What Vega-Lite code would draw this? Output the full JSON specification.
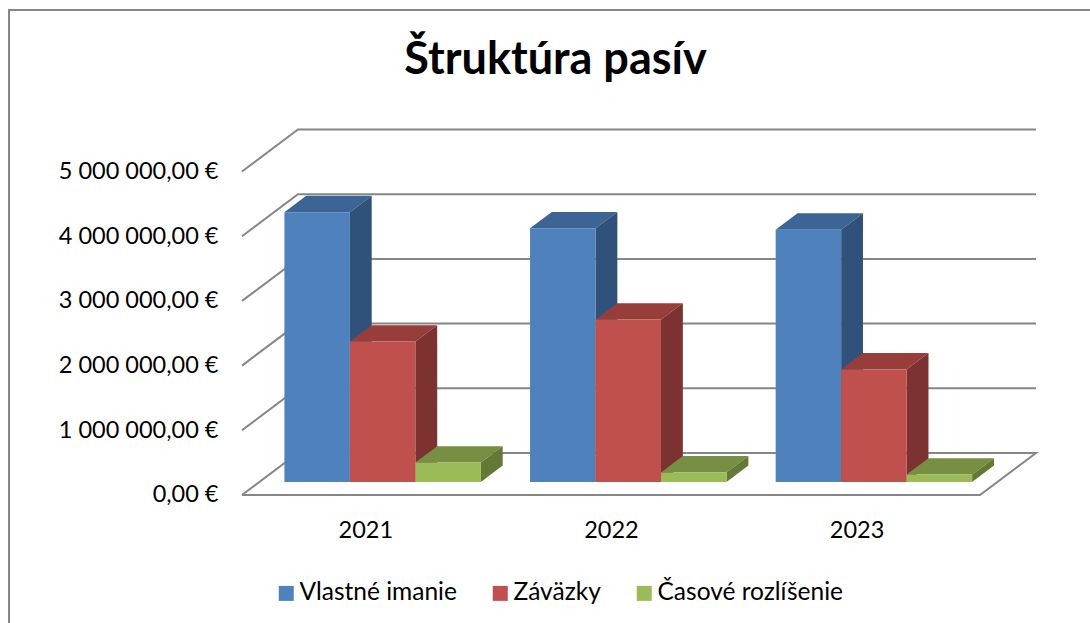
{"$schema":"https://vega.github.io/schema/vega-lite/v6.json","width":1083,"height":616,"padding":{"left":9,"top":10,"right":0,"bottom":0},"autosize":{"type":"none"},"background":"white","config":{"view":{"stroke":"#868686","strokeWidth":2},"font":"Lato"},"title":{"text":"Štruktúra pasív","anchor":"middle","frame":"group","dx":5,"offset":-73,"fontSize":45,"fontWeight":"bold","font":"Lato","color":"#000000"},"datasets":{"bars":[{"year":"2021","series":"Vlastné imanie","value":4170000,"slot":0,"slotEnd":1},{"year":"2021","series":"Záväzky","value":2170000,"slot":1,"slotEnd":2},{"year":"2021","series":"Časové rozlíšenie","value":300000,"slot":2,"slotEnd":3},{"year":"2022","series":"Vlastné imanie","value":3920000,"slot":3.75,"slotEnd":4.75},{"year":"2022","series":"Záväzky","value":2510000,"slot":4.75,"slotEnd":5.75},{"year":"2022","series":"Časové rozlíšenie","value":147000,"slot":5.75,"slotEnd":6.75},{"year":"2023","series":"Vlastné imanie","value":3900000,"slot":7.5,"slotEnd":8.5},{"year":"2023","series":"Záväzky","value":1740000,"slot":8.5,"slotEnd":9.5},{"year":"2023","series":"Časové rozlíšenie","value":115000,"slot":9.5,"slotEnd":10.5}],"faces":[{"face":"2021a","shade":"blue top","cx":[0,1,1,0],"cy":[4170000,4170000,4170000,4170000],"depth":[0.31,0.31,0.7,0.7],"idx":[0,1,2,3]},{"face":"2021b","shade":"blue side","cx":[1,1,1,1],"cy":[4170000,0,0,4170000],"depth":[0.31,0.31,0.7,0.7],"idx":[0,1,2,3]},{"face":"2021c","shade":"red top","cx":[1,2,2,1],"cy":[2170000,2170000,2170000,2170000],"depth":[0.31,0.31,0.7,0.7],"idx":[0,1,2,3]},{"face":"2021d","shade":"red side","cx":[2,2,2,2],"cy":[2170000,0,0,2170000],"depth":[0.31,0.31,0.7,0.7],"idx":[0,1,2,3]},{"face":"2021e","shade":"green top","cx":[2,3,3,2],"cy":[300000,300000,300000,300000],"depth":[0.31,0.31,0.7,0.7],"idx":[0,1,2,3]},{"face":"2021f","shade":"green side","cx":[3,3,3,3],"cy":[300000,0,0,300000],"depth":[0.31,0.31,0.7,0.7],"idx":[0,1,2,3]},{"face":"2022a","shade":"blue top","cx":[3.75,4.75,4.75,3.75],"cy":[3920000,3920000,3920000,3920000],"depth":[0.31,0.31,0.7,0.7],"idx":[0,1,2,3]},{"face":"2022b","shade":"blue side","cx":[4.75,4.75,4.75,4.75],"cy":[3920000,0,0,3920000],"depth":[0.31,0.31,0.7,0.7],"idx":[0,1,2,3]},{"face":"2022c","shade":"red top","cx":[4.75,5.75,5.75,4.75],"cy":[2510000,2510000,2510000,2510000],"depth":[0.31,0.31,0.7,0.7],"idx":[0,1,2,3]},{"face":"2022d","shade":"red side","cx":[5.75,5.75,5.75,5.75],"cy":[2510000,0,0,2510000],"depth":[0.31,0.31,0.7,0.7],"idx":[0,1,2,3]},{"face":"2022e","shade":"green top","cx":[5.75,6.75,6.75,5.75],"cy":[147000,147000,147000,147000],"depth":[0.31,0.31,0.7,0.7],"idx":[0,1,2,3]},{"face":"2022f","shade":"green side","cx":[6.75,6.75,6.75,6.75],"cy":[147000,0,0,147000],"depth":[0.31,0.31,0.7,0.7],"idx":[0,1,2,3]},{"face":"2023a","shade":"blue top","cx":[7.5,8.5,8.5,7.5],"cy":[3900000,3900000,3900000,3900000],"depth":[0.31,0.31,0.7,0.7],"idx":[0,1,2,3]},{"face":"2023b","shade":"blue side","cx":[8.5,8.5,8.5,8.5],"cy":[3900000,0,0,3900000],"depth":[0.31,0.31,0.7,0.7],"idx":[0,1,2,3]},{"face":"2023c","shade":"red top","cx":[8.5,9.5,9.5,8.5],"cy":[1740000,1740000,1740000,1740000],"depth":[0.31,0.31,0.7,0.7],"idx":[0,1,2,3]},{"face":"2023d","shade":"red side","cx":[9.5,9.5,9.5,9.5],"cy":[1740000,0,0,1740000],"depth":[0.31,0.31,0.7,0.7],"idx":[0,1,2,3]},{"face":"2023e","shade":"green top","cx":[9.5,10.5,10.5,9.5],"cy":[115000,115000,115000,115000],"depth":[0.31,0.31,0.7,0.7],"idx":[0,1,2,3]},{"face":"2023f","shade":"green side","cx":[10.5,10.5,10.5,10.5],"cy":[115000,0,0,115000],"depth":[0.31,0.31,0.7,0.7],"idx":[0,1,2,3]}],"grid":[{"level":0,"cx":[-0.382,-0.382,10.885,10.885,-0.382],"depth":[0,1,1,0,0],"idx":[0,1,2,3,4]},{"level":1000000,"cx":[-0.382,-0.382,10.885],"depth":[0,1,1],"idx":[0,1,2]},{"level":2000000,"cx":[-0.382,-0.382,10.885],"depth":[0,1,1],"idx":[0,1,2]},{"level":3000000,"cx":[-0.382,-0.382,10.885],"depth":[0,1,1],"idx":[0,1,2]},{"level":4000000,"cx":[-0.382,-0.382,10.885],"depth":[0,1,1],"idx":[0,1,2]},{"level":5000000,"cx":[-0.382,-0.382,10.885],"depth":[0,1,1],"idx":[0,1,2]}]},"layer":[{"data":{"name":"grid"},"transform":[{"flatten":["cx","depth","idx"]},{"calculate":"datum.cx+datum.depth*0.855","as":"px"},{"calculate":"datum.level+datum.depth*649000","as":"py"}],"mark":{"type":"line","stroke":"#868686","strokeWidth":2,"clip":false},"encoding":{"x":{"field":"px","type":"quantitative","scale":{"domain":[-3.939,12.595],"nice":false,"zero":false},"axis":{"title":null,"values":[1.5,5.25,9],"grid":false,"domain":false,"ticks":false,"offset":-108,"labelFontSize":23.5,"labelFont":"Lato","labelColor":"#000000","labelPadding":0,"labelExpr":"datum.value==1.5?'2021':datum.value==5.25?'2022':'2023'"}},"y":{"field":"py","type":"quantitative","scale":{"domain":[-2025000,7496000],"nice":false,"zero":false},"axis":{"title":null,"values":[0,1000000,2000000,3000000,4000000,5000000],"grid":false,"domain":false,"ticks":false,"offset":-209,"labelFontSize":23.5,"labelFont":"Lato","labelColor":"#000000","labelPadding":0,"labelExpr":"replace(replace(format(datum.value,',.2f'),regexp(',','g'),' '),'.',',')+' €'"}},"detail":{"field":"level"},"order":{"field":"idx"}}},{"data":{"name":"faces"},"transform":[{"flatten":["cx","cy","depth","idx"]},{"calculate":"datum.cx+datum.depth*0.855","as":"px"},{"calculate":"datum.cy+datum.depth*649000","as":"py"}],"mark":{"type":"line","strokeWidth":0,"clip":false},"encoding":{"x":{"field":"px","type":"quantitative"},"y":{"field":"py","type":"quantitative"},"detail":{"field":"face"},"order":{"field":"idx"},"fill":{"field":"shade","type":"nominal","legend":null,"scale":{"domain":["blue top","blue side","red top","red side","green top","green side"],"range":["#3C6494","#30527A","#973E3B","#7B3231","#768F43","#627A35"]}}}},{"data":{"name":"bars"},"mark":{"type":"rect","xOffset":17.4,"x2Offset":17.4,"yOffset":-13,"y2Offset":-13,"clip":false},"encoding":{"x":{"field":"slot","type":"quantitative"},"x2":{"field":"slotEnd"},"y":{"field":"value","type":"quantitative"},"y2":{"datum":0},"color":{"field":"series","type":"nominal","scale":{"domain":["Vlastné imanie","Záväzky","Časové rozlíšenie"],"range":["#4F81BD","#C0504D","#9BBB59"]},"legend":{"orient":"none","legendX":265,"legendY":571,"direction":"horizontal","columns":3,"title":null,"symbolType":"square","symbolSize":225,"symbolStrokeWidth":0,"labelFontSize":24.5,"labelFont":"Lato","labelColor":"#000000","labelOffset":1,"labelLimit":400,"columnPadding":31,"padding":0}}}}]}
